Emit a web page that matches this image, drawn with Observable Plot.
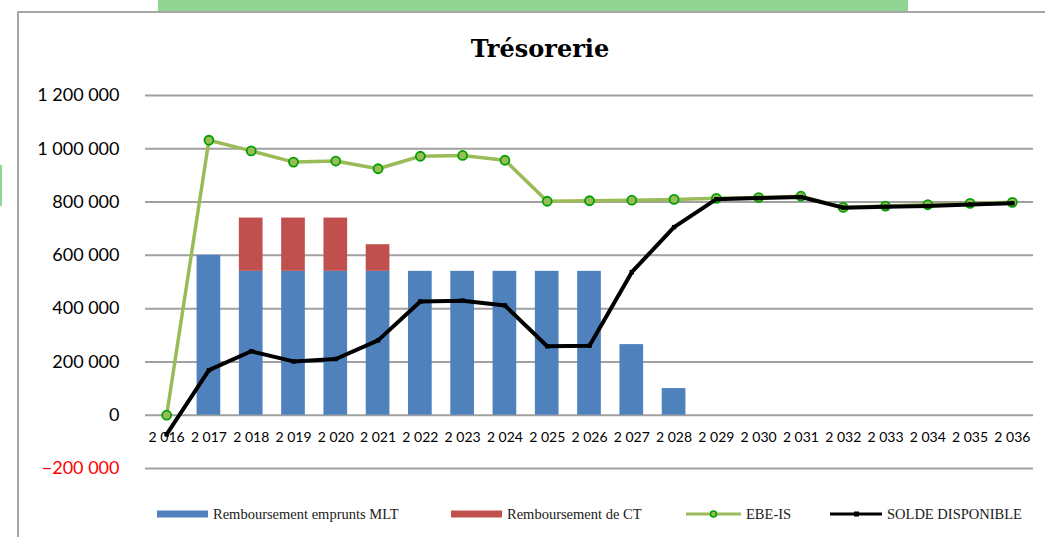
<!DOCTYPE html>
<html>
<head>
<meta charset="utf-8">
<script src="https://cdn.jsdelivr.net/npm/d3@7"></script>
<script src="https://cdn.jsdelivr.net/npm/@observablehq/plot@0.6"></script>
<style>
  html, body { margin: 0; padding: 0; background: #fff; width: 1045px; height: 537px; overflow: hidden; position: relative; }
  #topbar { position: absolute; left: 158px; top: 0; width: 750px; height: 11px; background: #92d492; }
  #sidebar { position: absolute; left: 0; top: 165px; width: 2px; height: 41px; background: #92d492; }
  #frame { position: absolute; left: 17px; top: 11px; width: 1100px; height: 600px; border-left: 2px solid #a6a6a6; border-top: 2px solid #a6a6a6; box-sizing: border-box; }
  #title { position: absolute; left: 0; width: 1080px; top: 34px; text-align: center; font-family: "DejaVu Serif", serif; font-weight: bold; font-size: 24px; color: #000; }
  #chart { position: absolute; left: 0; top: 0; }
  #legend { position: absolute; top: 505px; left: 0; width: 1045px; height: 18px; font-family: "Liberation Serif", serif; font-size: 14.5px; color: #1a1a1a; }
  .li { position: absolute; top: 0; height: 18px; display: flex; align-items: center; white-space: nowrap; }
  .li svg { margin-right: 5px; }
</style>
</head>
<body>
<div id="topbar"></div>
<div id="sidebar"></div>
<div id="frame"></div>
<div id="chart"></div>
<div id="title">Trésorerie</div>
<div id="legend"></div>
<script>
const years = ["2 016","2 017","2 018","2 019","2 020","2 021","2 022","2 023","2 024","2 025","2 026","2 027","2 028","2 029","2 030","2 031","2 032","2 033","2 034","2 035","2 036"];
const rembMLT = [0, 600000, 540000, 540000, 540000, 540000, 540000, 540000, 540000, 540000, 540000, 265000, 100000, 0, 0, 0, 0, 0, 0, 0, 0];
const rembCT  = [0, 0, 200000, 200000, 200000, 100000, 0, 0, 0, 0, 0, 0, 0, 0, 0, 0, 0, 0, 0, 0, 0];
const ebeIS   = [0, 1032000, 992000, 950000, 954000, 925000, 972000, 975000, 957000, 803000, 805000, 807000, 810000, 814000, 817000, 822000, 780000, 785000, 790000, 795000, 799000];
const solde   = [-72000, 169000, 240000, 202000, 211000, 281000, 427000, 430000, 412000, 259000, 261000, 537000, 706000, 811000, 815000, 819000, 779000, 782000, 785000, 791000, 796000];
const yTicks  = [-200000, 0, 200000, 400000, 600000, 800000, 1000000, 1200000];
const seriesNames = ["Remboursement emprunts MLT", "Remboursement de CT", "EBE-IS", "SOLDE DISPONIBLE"];
const colors = ["#4f81bd", "#c0504d", "#9bbb59", "#000000"];

const fmt = d => d3.format(",")(d).replace(/,/g, " ");

const bars = [];
years.forEach((y, i) => {
  bars.push({year: y, series: seriesNames[0], value: rembMLT[i]});
  bars.push({year: y, series: seriesNames[1], value: rembCT[i]});
});
const ebe = years.map((y, i) => ({year: y, value: ebeIS[i]}));
const sol = years.map((y, i) => ({year: y, value: solde[i]}));

const chart = Plot.plot({
  width: 1045,
  height: 537,
  marginLeft: 145,
  marginRight: 12,
  marginTop: 95,
  marginBottom: 69,
  style: {background: "transparent", overflow: "visible"},
  x: {type: "band", domain: years, padding: 0, round: false, axis: null},
  y: {domain: [-200000, 1200000], axis: null},
  color: {domain: seriesNames, range: colors},
  marks: [
    Plot.ruleY(yTicks, {stroke: "#a0a0a0", strokeWidth: 2}),
    Plot.text(yTicks, {y: d => d, text: d => fmt(d), frameAnchor: "left", textAnchor: "end", dx: -26,
      fill: d => d < 0 ? "#ff0000" : "#000000", fontFamily: "Lato", fontSize: 18}),
    Plot.barY(bars, {x: "year", y: "value", fill: "series", insetLeft: 9.3, insetRight: 9.3, order: seriesNames}),
    Plot.text(years, {x: d => d, y: () => 0, text: d => d, dy: 22, fontFamily: "Lato", fontSize: 14, fill: "#000"}),
    Plot.line(ebe, {x: "year", y: "value", stroke: colors[2], strokeWidth: 3.5}),
    Plot.dot(ebe, {x: "year", y: "value", r: 4.5, fill: colors[2], stroke: "#00a000", strokeWidth: 1.8}),
    Plot.line(sol, {x: "year", y: "value", stroke: "#000", strokeWidth: 4}),
    Plot.dot(sol, {x: "year", y: "value", symbol: "square", r: 2.5, fill: "#000"})
  ]
});
document.getElementById("chart").appendChild(chart);

// legend
const legend = document.getElementById("legend");
const items = [
  {left: 157, kind: "rect", color: colors[0], label: seriesNames[0]},
  {left: 451, kind: "rect", color: colors[1], label: seriesNames[1]},
  {left: 686, kind: "lineDot", color: colors[2], label: seriesNames[2]},
  {left: 830, kind: "lineSq", color: colors[3], label: seriesNames[3]}
];
items.forEach(it => {
  const div = document.createElement("div");
  div.className = "li";
  div.style.left = it.left + "px";
  let sw;
  if (it.kind === "rect") {
    sw = `<svg width="51" height="18"><rect x="0" y="5.5" width="51" height="7" fill="${it.color}"/></svg>`;
  } else if (it.kind === "lineDot") {
    sw = `<svg width="55" height="18"><line x1="0" x2="55" y1="9" y2="9" stroke="${it.color}" stroke-width="3"/><circle cx="27.5" cy="9" r="3" fill="${it.color}" stroke="#00a000" stroke-width="1.5"/></svg>`;
  } else {
    sw = `<svg width="52" height="18"><line x1="0" x2="52" y1="9" y2="9" stroke="${it.color}" stroke-width="3"/><rect x="24" y="6.5" width="5" height="5" fill="${it.color}"/></svg>`;
  }
  div.innerHTML = sw + `<span>${it.label}</span>`;
  legend.appendChild(div);
});
</script>
</body>
</html>
